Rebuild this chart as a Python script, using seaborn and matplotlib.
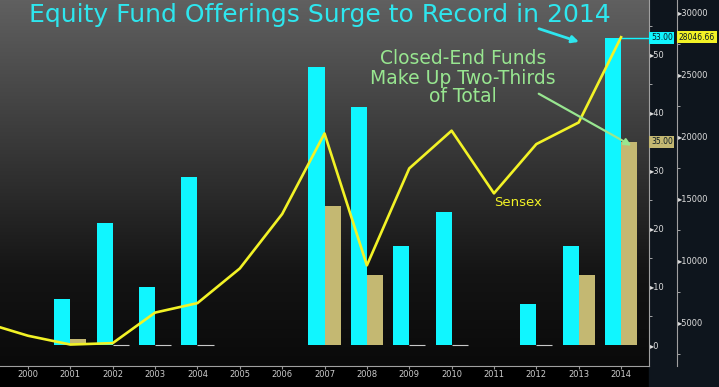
import pandas as pd
import seaborn as sns
import matplotlib.pyplot as plt
from matplotlib.colors import LinearSegmentedColormap
from matplotlib.patches import Rectangle
from matplotlib.ticker import MultipleLocator, FuncFormatter
import numpy as np

# fund offerings per year (only years that had launches)
bar_years = [2001, 2002, 2003, 2004, 2007, 2008, 2009, 2010, 2012, 2013, 2014]
total_funds = [8, 21, 10, 29, 48, 41, 17, 23, 7, 17, 53]
closed_end = [1, 0, 0, 0, 24, 12, 0, 0, 0, 12, 35]

# Sensex year-end level
sensex_years = list(range(1999, 2015))
sensex = [5005, 3972, 3262, 3377, 5839, 6603, 9398, 13787, 20287, 9647,
          17465, 20509, 15455, 19427, 21171, 28046.66]

xtick_years = list(range(2000, 2015))

CYAN = '#10f6ff'
TITLE_CYAN = '#2ee6ee'
TAN = '#c4b872'
YELLOW = '#f2f226'
GREEN = '#98e690'

n = len(bar_years)
df = pd.DataFrame({
    'year': bar_years * 2,
    'count': total_funds + closed_end,
    'type': ['Total'] * n + ['Closed-End'] * n,
})

fig = plt.figure(figsize=(7.19, 3.87), dpi=100, facecolor='black')

W, H = 719, 387
rect = [0, (H - 366) / H, 649 / W, 366 / H]

# right hand panel
fig.add_artist(Rectangle((649 / W, 0), 1 - 649 / W, 1, transform=fig.transFigure,
                         color='#0e151d', zorder=-1))

# gradient background
bg = fig.add_axes(rect, zorder=0)
cmap = LinearSegmentedColormap.from_list('bg', [(0, '#0a0a0a'), (0.25, '#141414'),
                                                (0.6, '#383838'), (1, '#606060')])
grad = np.linspace(0, 1, 256).reshape(-1, 1)
bg.imshow(grad, aspect='auto', cmap=cmap, origin='lower', extent=[0, 1, 0, 1])
bg.axis('off')

ax = fig.add_axes(rect, zorder=1)
ax.set_facecolor('none')
sns.barplot(data=df, x='year', y='count', hue='type', hue_order=['Total', 'Closed-End'],
            palette={'Total': CYAN, 'Closed-End': TAN}, native_scale=True, width=0.76,
            errorbar=None, legend=False, saturation=1, linewidth=0, ax=ax)
for p in ax.patches:
    if p.get_height() == 0:
        p.set_edgecolor('#c8c8c8')
        p.set_linewidth(0.8)

ax.hlines(total_funds[-1], bar_years[-1], 2014.66, color=CYAN, lw=1)

ax2 = ax.twinx()
sns.lineplot(x=sensex_years, y=sensex, color=YELLOW, lw=1.9, ax=ax2)

ax.set_xlim(1999.339, 2014.66)
ax.set_ylim(-3.62, 59.48)
ax.set_xlabel('')
ax.set_ylabel('')
ax.yaxis.tick_right()
for s in ['left', 'top']:
    ax.spines[s].set_visible(False)
for s in ['right', 'bottom']:
    ax.spines[s].set_color('#a0a0a0')
    ax.spines[s].set_linewidth(0.8)
ax.yaxis.set_major_locator(MultipleLocator(10))
ax.yaxis.set_minor_locator(MultipleLocator(5))
ax.yaxis.set_major_formatter(FuncFormatter(lambda v, p: '\u25b8' + f'{v:g}'))
ax.tick_params(axis='y', which='major', length=0, pad=0.5, labelsize=6, labelcolor='#dddddd')
ax.tick_params(axis='y', which='minor', length=2.5, color='#bbbbbb')
ax.set_xticks(xtick_years)
ax.set_xticklabels([str(y) for y in xtick_years])
ax.tick_params(axis='x', length=2, color='#999999', labelsize=6, labelcolor='#cccccc', pad=1)

ax2.set_xlim(1999.339, 2014.66)
ax2.set_ylim(1532, 31048)
ax2.set_ylabel('')
for s in ['left', 'top', 'bottom']:
    ax2.spines[s].set_visible(False)
ax2.spines['right'].set_position(('axes', 677 / 649))
ax2.spines['right'].set_color('#a0a0a0')
ax2.spines['right'].set_linewidth(0.8)
ax2.yaxis.set_major_locator(MultipleLocator(5000))
ax2.yaxis.set_minor_locator(MultipleLocator(2500))
ax2.yaxis.set_major_formatter(FuncFormatter(lambda v, p: '\u25b8' + f'{v:g}'))
ax2.tick_params(axis='y', which='major', length=0, pad=0.5, labelsize=6, labelcolor='#dddddd')
ax2.tick_params(axis='y', which='minor', length=2.5, color='#bbbbbb')

# value tags on the axes
ax.text(1.003, total_funds[-1], f'{total_funds[-1]:.2f}', transform=ax.get_yaxis_transform(),
        fontsize=5.5, color='#0a1a24', va='center', ha='left',
        bbox=dict(boxstyle='square,pad=0.2', fc=CYAN, ec='none'))
ax.text(1.003, closed_end[-1], f'{closed_end[-1]:.2f}', transform=ax.get_yaxis_transform(),
        fontsize=5.5, color='#0a1a24', va='center', ha='left',
        bbox=dict(boxstyle='square,pad=0.2', fc=TAN, ec='none'))
ax2.text(1.046, sensex[-1], f'{sensex[-1]:.2f}', transform=ax2.get_yaxis_transform(),
         fontsize=5.5, color='#0a1a24', va='center', ha='left',
         bbox=dict(boxstyle='square,pad=0.2', fc=YELLOW, ec='none'))

ax2.text(2011.0, 14700, 'Sensex', color=YELLOW, fontsize=9.5, va='center', ha='left')

fig.text(29 / W, 1 - 22 / H, 'Equity Fund Offerings Surge to Record in 2014',
         fontsize=18, color=TITLE_CYAN, va='baseline', ha='left')
fig.text(463 / W, 1 - 78 / H, 'Closed-End Funds\nMake Up Two-Thirds\nof Total',
         fontsize=13.5, color=GREEN, va='center', ha='center', multialignment='center',
         linespacing=1.0)

ax2.annotate('', xy=(2014.3, 19200), xytext=(2012.0, 23600),
             arrowprops=dict(arrowstyle='-|>', color=GREEN, lw=1.6, mutation_scale=10))
ax2.annotate('', xy=(2013.07, 27600), xytext=(2012.0, 28800),
             arrowprops=dict(arrowstyle='-|>', color=TITLE_CYAN, lw=2, mutation_scale=10))

fig.savefig('out.png', dpi=100, facecolor=fig.get_facecolor())
